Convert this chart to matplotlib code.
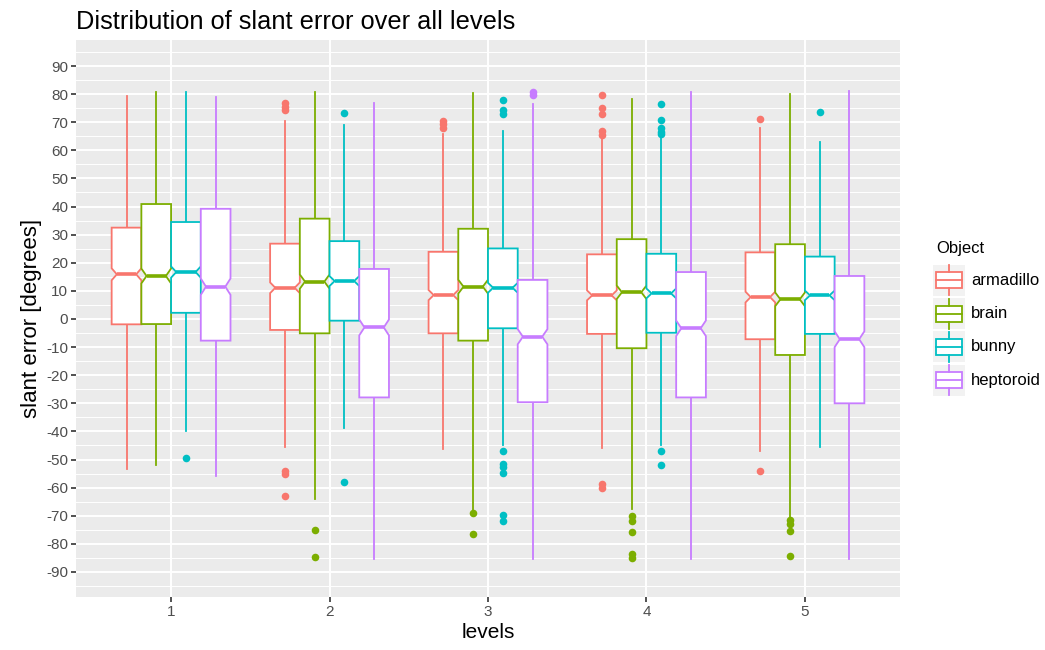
import numpy as np
import matplotlib
matplotlib.use("Agg")
import matplotlib.pyplot as plt
from matplotlib.patches import Polygon, Rectangle

plt.rcParams['font.family'] = ['Liberation Sans', 'DejaVu Sans']

levels = [1, 2, 3, 4, 5]
objects = ['armadillo', 'brain', 'bunny', 'heptoroid']
colors = ['#F8766D', '#7CAE00', '#00BFC4', '#C77CFF']

# rows = objects, columns = levels
whisk_hi = [[79.3, 70.4, 65.8, 64.3, 68.1],
            [80.8, 80.8, 80.3, 78.1, 79.9],
            [80.8, 69.0, 67.0, 64.9, 62.9],
            [79.1, 77.0, 76.4, 80.6, 81.1]]
q3 = [[32.5, 26.8, 23.9, 23.0, 23.7],
      [40.9, 35.7, 32.1, 28.4, 26.6],
      [34.5, 27.7, 25.1, 23.2, 22.2],
      [39.2, 17.8, 13.9, 16.7, 15.3]]
med = [[15.9, 11.1, 8.5, 8.4, 7.8],
       [15.3, 13.3, 11.5, 9.5, 7.0],
       [16.7, 13.5, 11.1, 9.1, 8.4],
       [11.5, -3.0, -6.3, -3.3, -7.2]]
q1 = [[-1.9, -3.9, -5.1, -5.3, -7.2],
      [-1.8, -5.1, -7.7, -10.4, -12.8],
      [2.2, -0.6, -3.3, -4.9, -5.3],
      [-7.7, -27.9, -29.6, -27.9, -30.0]]
whisk_lo = [[-53.2, -45.6, -46.2, -46.0, -47.0],
            [-51.9, -64.0, -67.8, -67.7, -70.5],
            [-39.7, -38.9, -44.8, -44.8, -45.6],
            [-55.9, -85.4, -85.4, -85.5, -85.5]]
outliers = {
    ('armadillo', 2): [76.7, 75.5, 74.3, -54.2, -55.2, -63.1],
    ('brain', 2): [-75.1, -84.8],
    ('bunny', 1): [-49.3],
    ('bunny', 2): [73.2, -58.1],
    ('armadillo', 3): [70.5, 69.2, 67.8],
    ('brain', 3): [-69.0, -76.5],
    ('bunny', 3): [77.9, 74.4, 72.8, -47.0, -51.6, -52.6, -54.7, -69.6, -71.8],
    ('heptoroid', 3): [80.6, 79.7],
    ('armadillo', 4): [79.6, 75.2, 72.8, 66.9, 65.5, -58.8, -60.2],
    ('brain', 4): [-70.1, -71.9, -75.7, -83.6, -85.1],
    ('bunny', 4): [76.4, 70.8, 67.8, 66.6, 65.8, -47.0, -51.8],
    ('armadillo', 5): [71.3, -54.2],
    ('brain', 5): [-71.5, -72.9, -75.3, -84.4],
    ('bunny', 5): [73.8],
}
n_per_box = 650  # approx. observations per box, sets notch size

W, H = 1045, 650
fig = plt.figure(figsize=(W / 100, H / 100), dpi=100)
ax = fig.add_axes([76 / W, 1 - 597 / H, 824 / W, 557 / H])
ax.set_facecolor('#EBEBEB')
for s in ax.spines.values():
    s.set_visible(False)

ax.set_xlim(0.4, 5.6)
ax.set_ylim(-98.9, 99.25)
yt = np.arange(-90, 91, 10)
ax.set_yticks(yt)
ax.set_yticklabels([str(v) for v in yt])
ax.set_yticks(np.arange(-95, 96, 10), minor=True)
ax.set_xticks(levels)
ax.set_xticklabels([str(l) for l in levels])
ax.grid(True, which='major', color='white', linewidth=1.4)
ax.grid(True, which='minor', axis='y', color='white', linewidth=0.7)
ax.set_axisbelow(True)
ax.tick_params(which='major', length=3.5, width=1.2, color='#333333',
               labelcolor='#4D4D4D', labelsize=11, pad=2)
ax.tick_params(which='minor', length=0)

lw = 1.3
bw = 0.1875
notch_frac = 0.65
for i, obj in enumerate(objects):
    c = colors[i]
    for j, lvl in enumerate(levels):
        x = lvl + (i - 1.5) * bw
        l, r = x - bw / 2, x + bw / 2
        m = med[i][j]
        iqr = q3[i][j] - q1[i][j]
        nh = 1.58 * iqr / np.sqrt(n_per_box)
        ind = bw * (1 - notch_frac) / 2
        ax.plot([x, x], [q3[i][j], whisk_hi[i][j]], color=c, lw=lw, zorder=2)
        ax.plot([x, x], [q1[i][j], whisk_lo[i][j]], color=c, lw=lw, zorder=2)
        pts = [(l, q3[i][j]), (r, q3[i][j]), (r, m + nh), (r - ind, m),
               (r, m - nh), (r, q1[i][j]), (l, q1[i][j]), (l, m - nh),
               (l + ind, m), (l, m + nh)]
        ax.add_patch(Polygon(pts, closed=True, facecolor='white',
                             edgecolor=c, lw=lw, zorder=3))
        ax.plot([l + ind, r - ind], [m, m], color=c, lw=2.6, zorder=4,
                solid_capstyle='butt')
        ol = outliers.get((obj, lvl), [])
        if ol:
            ax.scatter([x] * len(ol), ol, s=30, color=c, zorder=5,
                       linewidths=0)

ax.set_title('Distribution of slant error over all levels', loc='left',
             fontsize=18.3, pad=8)
ax.set_xlabel('levels', fontsize=15, labelpad=3)
ax.set_ylabel('slant error [degrees]', fontsize=16, labelpad=3)

# legend, drawn in pixel space
lg = fig.add_axes([0, 0, 1, 1], facecolor='none')
lg.set_xlim(0, W)
lg.set_ylim(H, 0)
lg.axis('off')
lg.text(936, 248, 'Object', fontsize=12, va='center', ha='left')
for k, (obj, c) in enumerate(zip(objects, colors)):
    cy = 280.3 + k * 33.3
    lg.add_patch(Rectangle((933, cy - 15.5), 32, 31, facecolor='#F2F2F2',
                           edgecolor='none'))
    lg.plot([949, 949], [cy - 15, cy - 8], color=c, lw=lw)
    lg.plot([949, 949], [cy + 8, cy + 15], color=c, lw=lw)
    lg.add_patch(Rectangle((936, cy - 8), 26, 16, facecolor='white',
                           edgecolor=c, lw=lw))
    lg.plot([936, 962], [cy, cy], color=c, lw=lw)
    lg.text(971, cy, obj, fontsize=12, va='center', ha='left')

fig.savefig('out.png', dpi=100)
